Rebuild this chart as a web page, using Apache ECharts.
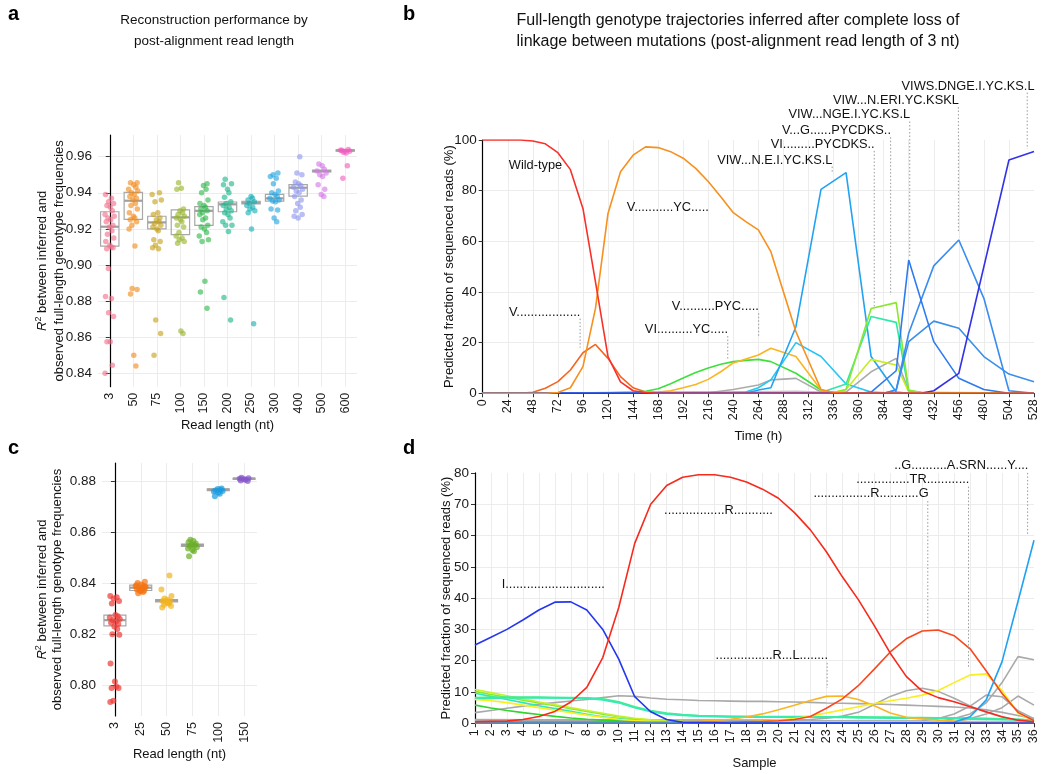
<!DOCTYPE html>
<html>
<head>
<meta charset="utf-8">
<script src="https://cdn.jsdelivr.net/npm/echarts/dist/echarts.min.js"></script>
<style>
  html, body { margin: 0; padding: 0; background: #fff; }
  #chart { width: 1050px; height: 774px; }
</style>
</head>
<body>
<div id="chart"></div>
<script>
// ---- panel a: R2 by read length ----
const readLenA = ['3', '50', '75', '100', '150', '200', '250', '300', '400', '500', '600'];
// q1, median, q3
const boxA = [
  [0.9105, 0.9212, 0.9295], [0.9253, 0.9356, 0.9402], [0.9200, 0.9236, 0.9270],
  [0.9168, 0.9264, 0.9305], [0.9220, 0.9300, 0.9323], [0.9295, 0.9336, 0.9349],
  [0.9338, 0.9345, 0.9353], [0.9354, 0.9369, 0.9391], [0.9382, 0.9428, 0.9445],
  [0.9515, 0.9520, 0.9525], [0.9630, 0.9635, 0.9638]
];
const ptsA = [
  [0.939, 0.937, 0.935, 0.934, 0.933, 0.932, 0.930, 0.928, 0.927, 0.926, 0.925, 0.924, 0.922, 0.921, 0.919, 0.917, 0.915, 0.913, 0.911, 0.910, 0.909, 0.9095, 0.898, 0.8825, 0.8815, 0.8735, 0.8715, 0.8575, 0.8575, 0.8445, 0.840],
  [0.9455, 0.9455, 0.9445, 0.943, 0.942, 0.941, 0.940, 0.939, 0.938, 0.937, 0.936, 0.934, 0.933, 0.931, 0.929, 0.927, 0.926, 0.925, 0.924, 0.922, 0.920, 0.9105, 0.887, 0.8865, 0.884, 0.850, 0.844],
  [0.940, 0.939, 0.936, 0.935, 0.929, 0.928, 0.926, 0.925, 0.924, 0.923, 0.922, 0.921, 0.920, 0.919, 0.914, 0.913, 0.911, 0.9095, 0.909, 0.8695, 0.862, 0.850],
  [0.9455, 0.9425, 0.942, 0.931, 0.930, 0.929, 0.928, 0.927, 0.926, 0.925, 0.924, 0.922, 0.921, 0.918, 0.916, 0.915, 0.914, 0.913, 0.912, 0.8635, 0.862],
  [0.945, 0.944, 0.942, 0.940, 0.936, 0.934, 0.933, 0.932, 0.931, 0.930, 0.929, 0.928, 0.926, 0.925, 0.922, 0.921, 0.920, 0.918, 0.916, 0.914, 0.913, 0.891, 0.885, 0.876],
  [0.9475, 0.945, 0.9445, 0.942, 0.940, 0.9375, 0.935, 0.934, 0.933, 0.932, 0.931, 0.930, 0.929, 0.928, 0.926, 0.924, 0.922, 0.922, 0.9185, 0.882, 0.8695],
  [0.938, 0.937, 0.936, 0.935, 0.934, 0.933, 0.932, 0.931, 0.930, 0.929, 0.920, 0.8675],
  [0.951, 0.950, 0.949, 0.948, 0.945, 0.941, 0.940, 0.939, 0.938, 0.937, 0.936, 0.9355, 0.935, 0.931, 0.9305, 0.926, 0.924],
  [0.960, 0.951, 0.950, 0.946, 0.945, 0.944, 0.943, 0.942, 0.941, 0.940, 0.938, 0.936, 0.934, 0.932, 0.930, 0.928, 0.927, 0.926],
  [0.956, 0.955, 0.953, 0.952, 0.951, 0.950, 0.949, 0.9445, 0.942, 0.939, 0.938],
  [0.9635, 0.963, 0.9625, 0.962, 0.9635, 0.964, 0.963, 0.955, 0.948]
];

// ---- panel c: R2 by read length (second set) ----
const readLenC = ['3', '25', '50', '75', '100', '150'];
const boxC = [
  [0.8233, 0.8255, 0.8275], [0.8371, 0.8382, 0.8392], [0.8326, 0.8331, 0.8335],
  [0.8544, 0.8549, 0.8553], [0.8762, 0.8766, 0.8769], [0.8806, 0.8809, 0.8811]
];
const ptsC = [
  [0.835, 0.8345, 0.834, 0.833, 0.832, 0.8275, 0.827, 0.8265, 0.826, 0.8255, 0.825, 0.8245, 0.824, 0.823, 0.822, 0.820, 0.8198, 0.8085, 0.8015, 0.7995, 0.799, 0.799, 0.794, 0.7935],
  [0.8405, 0.840, 0.8395, 0.839, 0.8388, 0.8385, 0.838, 0.8378, 0.8375, 0.837, 0.8368, 0.8365, 0.836, 0.8385, 0.8392, 0.8372],
  [0.843, 0.8375, 0.835, 0.834, 0.8335, 0.833, 0.8328, 0.8325, 0.832, 0.8315, 0.831, 0.8305, 0.833, 0.8322],
  [0.857, 0.8565, 0.856, 0.8555, 0.855, 0.8548, 0.8545, 0.854, 0.8535, 0.853, 0.8525, 0.8505],
  [0.877, 0.8768, 0.8765, 0.8762, 0.876, 0.8758, 0.8755, 0.875, 0.874],
  [0.8812, 0.881, 0.8808, 0.8806, 0.8804, 0.8802, 0.880]
];

// ---- panel b: genotype trajectories, [time h, %] ----
const wildType = [[0, 100], [12, 100], [24, 100], [36, 100], [48, 99.6], [60, 98.5], [72, 95], [84, 88.3], [96, 73], [108, 44], [120, 14.5], [132, 4.5], [144, 1], [156, 0.3], [168, 0], [528, 0]];
const gVYC = [[0, 0], [60, 0], [72, 0.3], [84, 2.2], [96, 10.5], [108, 33.5], [120, 71], [132, 87.5], [144, 94], [156, 97.3], [168, 97], [180, 95.4], [192, 92.8], [204, 88.8], [216, 83.6], [228, 77.6], [240, 71.3], [252, 67.8], [264, 64.5], [276, 55.9], [300, 24.3], [324, 1.5], [336, 0.3], [348, 0], [528, 0]];
const gV = [[0, 0], [36, 0], [48, 0.4], [60, 2], [72, 4.6], [84, 9.2], [96, 16], [108, 19.3], [120, 13.8], [132, 6.6], [144, 2.2], [156, 0.5], [168, 0.2], [528, 0]];
const gVIYC = [[0, 0], [120, 0.2], [144, 0.5], [156, 0.8], [168, 1.8], [180, 3.8], [192, 6], [204, 8.2], [216, 10], [228, 11.5], [240, 12.5], [252, 13], [264, 13.4], [276, 12.5], [300, 7.9], [324, 1.3], [336, 0.3], [348, 0], [528, 0]];
const gVPYC = [[0, 0], [144, 0.3], [168, 0.5], [180, 1], [192, 2.2], [204, 3.5], [216, 5.5], [228, 8.5], [240, 12], [252, 13.5], [264, 15.1], [276, 17.8], [300, 14.5], [324, 1.3], [336, 0.3], [348, 0], [528, 0]];
const grayB1 = [[0, 0], [216, 0.2], [240, 1.5], [264, 3.3], [276, 5.3], [300, 5.9], [324, 0.5], [348, 0.5], [372, 8.5], [396, 13.8], [408, 1], [420, 0.3], [528, 0]];
const grayB2 = [[0, 0], [240, 0.5], [300, 0.8], [336, 0.3], [528, 0.2]];
const gNEIYC = [[0, 0], [252, 0], [264, 1.3], [276, 2.2], [300, 26.3], [324, 80.5], [348, 87.1], [372, 14.5], [396, 0.5], [408, 0], [528, 0]];
const gCyan = [[0, 0], [252, 0.5], [264, 2.2], [276, 5.3], [300, 20], [324, 14.5], [348, 3.7], [372, 0.5], [396, 0], [528, 0]];
const gVGPYCDKS = [[0, 0], [336, 0.3], [348, 1.5], [372, 33.5], [396, 35.8], [408, 1.3], [420, 0.3], [528, 0]];
const gVIPYCDKS = [[0, 0], [324, 0.3], [348, 3.7], [372, 30.3], [396, 28], [408, 1], [420, 0.3], [528, 0]];
const gYellowGreen = [[0, 0], [336, 0.3], [348, 1.5], [372, 13.4], [396, 11.2], [408, 0.5], [528, 0]];
const gNGE = [[0, 0], [360, 0], [372, 0.5], [396, 8.9], [408, 52.6], [432, 20.4], [456, 5.9], [480, 1.5], [504, 0], [528, 0]];
const gERI = [[0, 0], [384, 0], [396, 1.3], [408, 23.7], [432, 50.3], [456, 60.5], [480, 37.5], [504, 1], [528, 0]];
const gBlue28 = [[0, 0], [384, 0], [396, 1.3], [408, 20.4], [432, 28.5], [456, 25.7], [480, 14.5], [504, 7.6], [528, 4.6]];
const gVIWS = [[0, 0], [420, 0], [432, 1], [456, 7.9], [504, 92.1], [528, 95.5]];

// ---- panel d: trajectories by sample ----
const sampleD = [1, 2, 3, 4, 5, 6, 7, 8, 9, 10, 11, 12, 13, 14, 15, 16, 17, 18, 19, 20, 21, 22, 23, 24, 25, 26, 27, 28, 29, 30, 31, 32, 33, 34, 35, 36];
const redD = [0.5, 0.6, 0.7, 1.2, 2.2, 3.8, 6.8, 11.5, 21, 37, 57.5, 70, 76, 78.6, 79.4, 79.4, 78.6, 77.1, 74.8, 71.9, 67.3, 61.8, 54.8, 46.8, 39.5, 31.2, 22.4, 15, 10.3, 8.2, 6.9, 5.3, 3.7, 2.1, 1, 0.5];
const redOrangeD = [0.3, 0.3, 0.3, 0.3, 0.3, 0.3, 0.3, 0.3, 0.3, 0.3, 0.3, 0.3, 0.3, 0.3, 0.3, 0.3, 0.4, 0.5, 0.6, 0.8, 1.2, 2.2, 4.8, 7.8, 12, 17.3, 22.8, 27, 29.5, 29.8, 28, 23.8, 16.8, 9.5, 3.5, 0.8];
const blueD = [25, 27.5, 30, 33, 36.2, 38.7, 38.8, 36.2, 30, 20.5, 8.5, 3.7, 1.2, 0.3, 0.2, 0.2, 0.1, 0.1, 0.1, 0.1, 0.1, 0.1, 0.1, 0.1, 0.1, 0.1, 0.1, 0.1, 0.1, 0.1, 0.1, 0.1, 0.1, 0.1, 0.1, 0.1];
const yellowD = [7.6, 7.2, 6.6, 5.8, 5, 4.2, 3.4, 2.6, 1.9, 1.3, 0.9, 0.6, 0.4, 0.3, 0.3, 0.3, 0.4, 0.5, 0.7, 1, 1.5, 2.3, 3.3, 4.3, 5.3, 6.3, 7.2, 8, 9, 10.5, 13, 15.4, 15.8, 10.5, 3.2, 0.7];
const gray1D = [3.4, 4.1, 4.8, 5.5, 6.1, 6.6, 7.1, 7.6, 8.2, 8.8, 8.6, 8.1, 7.7, 7.5, 7.3, 7.2, 7.1, 7.0, 7.0, 6.9, 6.8, 6.7, 6.5, 6.4, 6.3, 6.2, 6.0, 5.8, 5.6, 5.4, 5.2, 4.9, 4.3, 3.5, 2.5, 1.5];
const aquaD = [7.7, 8, 8.2, 8.2, 8.2, 8.2, 8.1, 8, 7.5, 6.6, 5, 3.8, 3, 2.6, 2.3, 2.2, 2.1, 2, 2, 2, 2, 2, 1.9, 1.9, 1.8, 1.8, 1.7, 1.7, 1.6, 1.6, 1.5, 1.4, 1.3, 1.2, 1.1, 1];
const springD = [8.2, 8.3, 8.3, 8.3, 8.3, 8.2, 8.2, 8.1, 7.8, 6.8, 5.2, 4, 3.2, 2.7, 2.4, 2.3, 2.2, 2.2, 2.1, 2.1, 2.1, 2.1, 2, 2, 2, 1.9, 1.9, 1.8, 1.8, 1.7, 1.7, 1.6, 1.5, 1.4, 1.2, 1];
// sparse ones as [sample, %]
const lightBlueD = [[1, 0.1], [30, 0.1], [31, 0.3], [32, 2.1], [33, 7.4], [34, 19.7], [35, 39], [36, 58.5]];
const orangeD = [[1, 0.2], [12, 0.2], [13, 0.3], [14, 0.4], [15, 0.6], [16, 0.9], [17, 1.3], [18, 2], [19, 3], [20, 4.3], [21, 5.8], [22, 7.3], [23, 8.6], [24, 8.7], [25, 7.6], [26, 5.6], [27, 3.3], [28, 1.9], [29, 1.4], [30, 1], [31, 0.7], [32, 0.5], [33, 0.3], [36, 0.1]];
const gray2D = [[1, 1], [21, 1], [22, 1.2], [23, 1.6], [24, 2.3], [25, 3.5], [26, 6], [27, 8.6], [28, 10.4], [29, 11.2], [30, 10.2], [31, 8], [32, 5.5], [33, 3.5], [34, 2], [35, 1], [36, 0.5]];
const gray3D = [[1, 0.5], [30, 0.5], [31, 1.5], [32, 3], [33, 6.5], [34, 13], [35, 21.3], [36, 20.3]];
const gray4D = [[1, 0.3], [31, 0.5], [32, 1.5], [33, 3], [34, 5], [35, 8.7], [36, 5.8]];
const gray5D = [[1, 0.6], [29, 0.8], [30, 1.5], [31, 3], [32, 5.5], [33, 9], [34, 8.5], [35, 4], [36, 1.5]];
const gray6D = [[1, 1.2], [10, 1], [20, 0.8], [36, 0.5]];
const limeD = [[1, 10.8], [2, 9.8], [3, 8.8], [4, 7.8], [5, 6.8], [6, 5.9], [7, 5], [8, 4.1], [9, 3.2], [10, 2.3], [11, 1.6], [12, 1.1], [13, 0.8], [14, 0.6], [15, 0.5], [36, 0.3]];
const lightGreenD = [[1, 10.2], [2, 9.2], [3, 8.3], [4, 7.4], [5, 6.5], [6, 5.6], [7, 4.7], [8, 3.8], [9, 2.9], [10, 2.1], [11, 1.4], [12, 1], [13, 0.7], [14, 0.5], [36, 0.3]];
const tealD = [[1, 9.6], [2, 8.6], [3, 7.6], [4, 6.6], [5, 5.6], [6, 4.7], [7, 3.8], [8, 2.9], [9, 2.1], [10, 1.5], [11, 1], [12, 0.7], [13, 0.5], [36, 0.3]];
const greenD = [[1, 5.8], [2, 4.9], [3, 4.1], [4, 3.4], [5, 2.8], [6, 2.2], [7, 1.7], [8, 1.3], [9, 1], [10, 0.7], [11, 0.5], [36, 0.3]];

// annotations: [text, x, y, align, leaderX, leaderTop, leaderBottom]
const annB = [
  ['Wild-type', 25, 90.1, 'left'],
  ['V...........YC.....', 138, 73.2, 'left'],
  ['V..................', 93.5, 32.1, 'right', 93.3, 29.5, 18],
  ['VI..........YC.....', 235, 25, 'right', 234.7, 22.6, 13.5],
  ['V..........PYC.....', 264.5, 34.2, 'right', 264.3, 31.6, 22.4],
  ['VIW...N.E.I.YC.KS.L', 335, 92.1, 'right', 334.7, 89.5, 87.5],
  ['VI.........PYCDKS..', 375.3, 98.3, 'right', 375, 95.7, 34],
  ['V...G......PYCDKS..', 391, 103.7, 'right', 390.7, 101.1, 38.8],
  ['VIW...NGE.I.YC.KS.L', 409.3, 109.9, 'right', 409, 107.3, 54],
  ['VIW...N.ERI.YC.KSKL', 456, 115.6, 'right', 455.6, 113, 64],
  ['VIWS.DNGE.I.YC.KS.L', 528.5, 121.3, 'right', 521.5, 118.7, 96.5]
];
const annD = [
  ['I............................', 9.13, 44.2, 'right'],
  ['.................R...........', 19.65, 68.1, 'right'],
  ['................R...........G', 29.4, 73.5, 'right', 29.35, 71, 31.4],
  ['...............TR............', 31.95, 78, 'right', 31.9, 75.6, 17.7],
  ['..G..........A.SRN......Y....', 35.65, 82.5, 'right', 35.6, 80, 60],
  ['................R...L........', 23.1, 21.8, 'right', 23.05, 19.3, 11.3]
];

const colorsA = ['#F2708A', '#F08A1C', '#C5A21C', '#98B42A', '#2EB84A', '#1DB58C', '#14AFB4', '#22A5E2', '#8E96F0', '#D477E6', '#F05DBE'];
const colorsC = ['#EE3B36', '#F5730F', '#F2B320', '#6AAE25', '#1A9BE0', '#8455C9'];
// fixed jitter pattern (horizontal spread only)
const jit = [-0.18, 0.07, -0.05, 0.16, -0.12, 0.02, 0.11, -0.2, 0.19, -0.08, 0.04, -0.15, 0.13, -0.02, 0.09, -0.1, 0.17, -0.17, 0.0, 0.06, -0.13, 0.14, -0.06];

const FONT = '"Liberation Sans", Arial, sans-serif';
const GRID_LINE = { show: true, lineStyle: { color: '#ececec', width: 1 }, showMinLine: false, showMaxLine: false };

function jitterPts(groups, colors) {
  const out = [];
  groups.forEach((g, gi) => {
    g.forEach((v, i) => {
      out.push({ value: [gi + jit[(i + gi * 3) % jit.length], v], itemStyle: { color: colors[gi] } });
    });
  });
  return out;
}

function boxSeries(boxes, xi, w) {
  return {
    type: 'custom',
    xAxisIndex: xi, yAxisIndex: xi,
    silent: true, z: 2,
    data: boxes.map((b, i) => [i, b[0], b[1], b[2]]),
    encode: { x: 0, y: [1, 2, 3] },
    renderItem: function (params, api) {
      const i = api.value(0);
      const top = api.coord([i, api.value(3)]);
      const bot = api.coord([i, api.value(1)]);
      const med = api.coord([i, api.value(2)]);
      const bw = api.size([w, 0])[0];
      return {
        type: 'group',
        children: [
          { type: 'rect', shape: { x: top[0] - bw / 2, y: top[1], width: bw, height: Math.max(bot[1] - top[1], 0.5) },
            style: { fill: 'none', stroke: '#a8a8a8', lineWidth: 1.2 } },
          { type: 'line', shape: { x1: med[0] - bw / 2, y1: med[1], x2: med[0] + bw / 2, y2: med[1] },
            style: { stroke: '#a0a0a0', lineWidth: 2.2 } }
        ]
      };
    }
  };
}

function annSeries(list, xi) {
  return {
    type: 'custom',
    xAxisIndex: xi, yAxisIndex: xi,
    silent: true, clip: false, z: 10,
    data: list.map(a => [a[1], a[2]]),
    renderItem: function (params, api) {
      const a = list[params.dataIndex];
      const p = api.coord([a[1], a[2]]);
      const kids = [{
        type: 'text', x: p[0], y: p[1],
        style: { text: a[0], align: a[3], verticalAlign: 'middle', font: '12.8px ' + FONT, fill: '#111' }
      }];
      if (a[4] != null) {
        const p1 = api.coord([a[4], a[5]]);
        const p2 = api.coord([a[4], a[6]]);
        kids.push({
          type: 'line', shape: { x1: p1[0], y1: p1[1], x2: p2[0], y2: p2[1] },
          style: { stroke: '#9a9a9a', lineWidth: 1, lineDash: [1.5, 2] }
        });
      }
      return { type: 'group', children: kids };
    }
  };
}

function lineS(data, color, xi, width) {
  return {
    type: 'line', xAxisIndex: xi, yAxisIndex: xi, data: data,
    showSymbol: false, symbol: 'none', silent: true,
    lineStyle: { color: color, width: width || 1.6 }, itemStyle: { color: color }
  };
}
const byS = arr => arr.map((v, i) => [sampleD[i], v]);

const axisTxt = { color: '#1a1a1a', fontSize: 13.5, fontFamily: FONT };
const nameTxt = { color: '#111', fontSize: 13, fontFamily: FONT };
const blackLine = { show: true, lineStyle: { color: '#000', width: 1.2 } };
const blackTick = { show: true, length: 4, lineStyle: { color: '#333' } };
const r2Name = '{it|R}{sup|2} between inferred and\nobserved full-length genotype frequencies';
const r2Rich = { it: { fontStyle: 'italic', fontSize: 13, fontFamily: FONT }, sup: { fontSize: 9, padding: [0, 0, 8, 0], fontFamily: FONT } };

const chart = echarts.init(document.getElementById('chart'), null, { renderer: 'canvas' });
chart.setOption({
  animation: false,
  backgroundColor: '#fff',
  grid: [
    { left: 98, top: 135, width: 259, height: 251.7, outerBoundsMode: 'none' },
    { left: 482.7, top: 140, width: 551.3, height: 253.3, outerBoundsMode: 'none' },
    { left: 102, top: 463, width: 155, height: 253, outerBoundsMode: 'none' },
    { left: 475, top: 472.9, width: 559, height: 250.4, outerBoundsMode: 'none' }
  ],
  xAxis: [
    { gridIndex: 0, type: 'value', min: -0.5, max: 10.5, splitNumber: 11,
      axisLine: { show: false }, axisTick: { show: false }, splitLine: GRID_LINE,
      axisLabel: Object.assign({}, axisTxt, { fontSize: 12.5, rotate: 90, margin: 6,
        formatter: v => (Number.isInteger(v) && readLenA[v] !== undefined) ? readLenA[v] : '' }),
      name: 'Read length (nt)', nameLocation: 'middle', nameGap: 32, nameMoveOverlap: false, nameTextStyle: nameTxt },
    { gridIndex: 1, type: 'value', min: 0, max: 528, interval: 24,
      axisLine: blackLine, axisTick: blackTick, splitLine: GRID_LINE,
      axisLabel: Object.assign({}, axisTxt, { fontSize: 12.5, rotate: 90, margin: 6 }),
      name: 'Time (h)', nameLocation: 'middle', nameGap: 37, nameMoveOverlap: false, nameTextStyle: nameTxt },
    { gridIndex: 2, type: 'value', min: -0.5, max: 5.5, splitNumber: 6,
      axisLine: { show: false }, axisTick: { show: false }, splitLine: GRID_LINE,
      axisLabel: Object.assign({}, axisTxt, { fontSize: 12.5, rotate: 90, margin: 6,
        formatter: v => (Number.isInteger(v) && readLenC[v] !== undefined) ? readLenC[v] : '' }),
      name: 'Read length (nt)', nameLocation: 'middle', nameGap: 32, nameMoveOverlap: false, nameTextStyle: nameTxt },
    { gridIndex: 3, type: 'value', min: 1, max: 36, interval: 1,
      axisLine: blackLine, axisTick: blackTick, splitLine: GRID_LINE,
      axisLabel: Object.assign({}, axisTxt, { fontSize: 12.5, rotate: 90, margin: 6 }),
      name: 'Sample', nameLocation: 'middle', nameGap: 34, nameMoveOverlap: false, nameTextStyle: nameTxt }
  ],
  yAxis: [
    { gridIndex: 0, type: 'value', min: 0.8326, max: 0.972, splitNumber: 7,
      axisLine: blackLine, axisTick: blackTick, splitLine: GRID_LINE,
      axisLabel: Object.assign({}, axisTxt, { margin: 6, showMinLabel: false, showMaxLabel: false,
        formatter: v => Math.abs(v * 50 - Math.round(v * 50)) < 1e-6 ? v.toFixed(2) : '' }),
      name: r2Name, nameLocation: 'middle', nameGap: 30, nameMoveOverlap: false,
      nameTextStyle: Object.assign({}, nameTxt, { lineHeight: 17, rich: r2Rich }) },
    { gridIndex: 1, type: 'value', min: 0, max: 100, interval: 20,
      axisLine: blackLine, axisTick: blackTick, splitLine: GRID_LINE,
      axisLabel: Object.assign({}, axisTxt, { margin: 6 }),
      name: 'Predicted fraction of sequenced reads (%)', nameLocation: 'middle', nameGap: 27, nameMoveOverlap: false, nameTextStyle: nameTxt },
    { gridIndex: 2, type: 'value', min: 0.788, max: 0.887, splitNumber: 5,
      axisLine: blackLine, axisTick: blackTick, splitLine: GRID_LINE,
      axisLabel: Object.assign({}, axisTxt, { margin: 6, showMinLabel: false, showMaxLabel: false,
        formatter: v => Math.abs(v * 50 - Math.round(v * 50)) < 1e-6 ? v.toFixed(2) : '' }),
      name: r2Name, nameLocation: 'middle', nameGap: 37, nameMoveOverlap: false,
      nameTextStyle: Object.assign({}, nameTxt, { lineHeight: 15, rich: r2Rich }) },
    { gridIndex: 3, type: 'value', min: 0, max: 80, interval: 10,
      axisLine: blackLine, axisTick: blackTick, splitLine: GRID_LINE,
      axisLabel: Object.assign({}, axisTxt, { margin: 6 }),
      name: 'Predicted fraction of sequenced reads (%)', nameLocation: 'middle', nameGap: 22, nameMoveOverlap: false, nameTextStyle: nameTxt }
  ],
  graphic: [
    { type: 'text', x: 8, y: 4, style: { text: 'a', font: 'bold 20px ' + FONT, fill: '#000' } },
    { type: 'text', x: 403, y: 4, style: { text: 'b', font: 'bold 20px ' + FONT, fill: '#000' } },
    { type: 'text', x: 8, y: 438, style: { text: 'c', font: 'bold 20px ' + FONT, fill: '#000' } },
    { type: 'text', x: 403, y: 438, style: { text: 'd', font: 'bold 20px ' + FONT, fill: '#000' } },
    { type: 'text', x: 214, y: 31, style: { text: 'Reconstruction performance by\npost-alignment read length',
      align: 'center', verticalAlign: 'middle', lineHeight: 21, font: '13.5px ' + FONT, fill: '#111' } },
    { type: 'text', x: 738, y: 31, style: { text: 'Full-length genotype trajectories inferred after complete loss of\nlinkage between mutations (post-alignment read length of 3 nt)',
      align: 'center', verticalAlign: 'middle', lineHeight: 21, font: '16px ' + FONT, fill: '#111' } }
  ],
  series: [
    // panel a
    boxSeries(boxA, 0, 0.78),
    { type: 'scatter', xAxisIndex: 0, yAxisIndex: 0, symbolSize: 5.5, silent: true, z: 3,
      itemStyle: { opacity: 0.62 }, data: jitterPts(ptsA, colorsA) },
    // panel c
    boxSeries(boxC, 2, 0.85),
    { type: 'scatter', xAxisIndex: 2, yAxisIndex: 2, symbolSize: 6, silent: true, z: 3,
      itemStyle: { opacity: 0.7 }, data: jitterPts(ptsC, colorsC) },
    // panel b
    lineS(grayB2, '#c4c4c4', 1), lineS(grayB1, '#ababab', 1),
    lineS(gV, '#F4661F', 1), lineS(gVIYC, '#3DE03A', 1), lineS(gVPYC, '#FBB522', 1),
    lineS(gCyan, '#25C6F2', 1), lineS(gNEIYC, '#21A3F2', 1),
    lineS(gYellowGreen, '#C5EE1E', 1), lineS(gVIPYCDKS, '#2EE8A8', 1), lineS(gVGPYCDKS, '#8CE630', 1),
    lineS(gBlue28, '#3A8FEA', 1), lineS(gERI, '#3A8CF0', 1), lineS(gNGE, '#2E7BF0', 1),
    lineS(gVIWS, '#3333E6', 1),
    lineS(gVYC, '#F7901E', 1), lineS(wildType, '#F8312A', 1),
    annSeries(annB, 1),
    // panel d
    lineS(gray6D, '#b0b0b0', 3), lineS(gray5D, '#a9a9a9', 3), lineS(gray4D, '#a9a9a9', 3),
    lineS(gray3D, '#a9a9a9', 3), lineS(gray2D, '#a9a9a9', 3), lineS(byS(gray1D), '#a9a9a9', 3),
    lineS(greenD, '#2FD42F', 3), lineS(tealD, '#2EE6C2', 3), lineS(lightGreenD, '#82EB2E', 3),
    lineS(limeD, '#C6F02A', 3), lineS(byS(springD), '#45EE88', 3, 2), lineS(byS(aquaD), '#38EAB2', 3, 2),
    lineS(orangeD, '#F9B623', 3), lineS(byS(yellowD), '#F9EE1E', 3),
    lineS(byS(redOrangeD), '#F9481F', 3), lineS(lightBlueD, '#1FA2F2', 3),
    lineS(byS(blueD), '#2437F0', 3), lineS(byS(redD), '#F72A1C', 3),
    annSeries(annD, 3)
  ]
});
</script>
</body>
</html>
